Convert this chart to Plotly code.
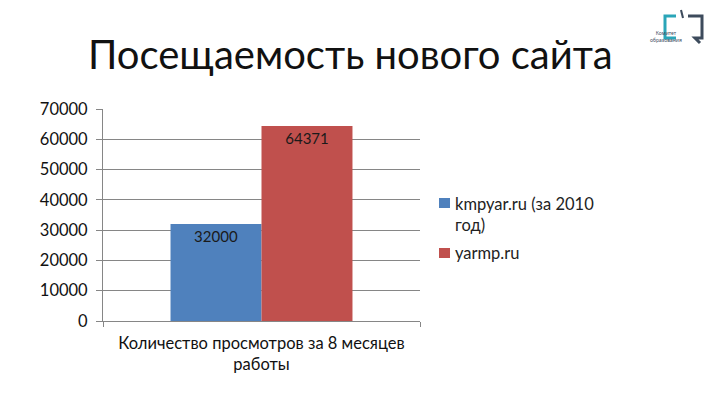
import plotly.graph_objects as go

title = "Посещаемость нового сайта"
categories = ["Количество просмотров за 8 месяцев<br>работы"]
kmpyar = [32000]
yarmp = [64371]
y_ticks = [0, 10000, 20000, 30000, 40000, 50000, 60000, 70000]
legend_names = ["kmpyar.ru (за 2010<br>год)", "yarmp.ru"]

FONT = "Lato, Noto Sans, sans-serif"
BLUE, RED = "#4f81bd", "#c0504d"
TEAL, DARK = "#2aa5b8", "#3d4b5c"
W, H = 720, 405
L, R, T, B = 103, 420, 109, 321


# paper coordinates from picture pixels, for the decorations outside the plot
def px(x):
    return (x - L) / (R - L)


def py(y):
    return (B - y) / (B - T)


def path(points):
    return "M " + " L ".join("%f %f" % (px(x), py(y)) for x, y in points)


fig = go.Figure()
fig.add_trace(go.Bar(name=legend_names[0], x=categories, y=kmpyar, marker_color=BLUE, text=kmpyar))
fig.add_trace(go.Bar(name=legend_names[1], x=categories, y=yarmp, marker_color=RED, text=yarmp))
fig.update_traces(textposition="inside", insidetextanchor="end", textangle=0,
                  constraintext="none", marker_line_width=0,
                  textfont=dict(family=FONT, size=15, color="#1a1a1a"))

fig.update_layout(
    width=W, height=H, barmode="group", bargap=0.426, bargroupgap=0,
    paper_bgcolor="white", plot_bgcolor="white", font=dict(family=FONT, color="#111111"),
    margin=dict(l=L, r=W - R, t=T, b=H - B), autosize=False, showlegend=False,
    title=dict(text=title, font=dict(family=FONT, size=40, color="#111111"),
               x=88 / W, xanchor="left", y=1 - 55 / H, yanchor="middle"),
)
fig.update_yaxes(range=[0, 70000], tickvals=y_ticks, tickformat="d", ticks="outside", ticklen=6,
                 ticklabelstandoff=5, tickcolor="#868686", showline=True, linecolor="#868686",
                 gridcolor="#868686", gridwidth=1, zeroline=False,
                 tickfont=dict(family=FONT, size=16.5, color="#111111"))
fig.update_xaxes(tickson="boundaries", ticks="outside", ticklen=5, ticklabelstandoff=7, tickcolor="#868686",
                 showline=True, linecolor="#868686", showgrid=False, tickangle=0,
                 tickfont=dict(family=FONT, size=16.5, color="#111111"))

# legend drawn by hand: plotly can't put the swatch this close to the text
for name, color, y0, y1, text_y in [(legend_names[0], BLUE, 198, 208, 214),
                                    (legend_names[1], RED, 248, 258, 253)]:
    fig.add_shape(type="rect", xref="paper", yref="paper", x0=px(439), x1=px(450), y0=py(y0), y1=py(y1),
                  line_width=0, fillcolor=color)
    fig.add_annotation(text=name, xref="paper", yref="paper", x=px(453), y=py(text_y), xanchor="left",
                       yanchor="middle", align="left", showarrow=False,
                       font=dict(family=FONT, size=16.5, color="#222222"))

# speech-bubble logo, top right corner
fig.add_shape(type="path", xref="paper", yref="paper", line=dict(color=TEAL, width=3),
              path=path([(676, 16), (665, 16), (665, 38), (676, 38)]))
fig.add_shape(type="path", xref="paper", yref="paper", line=dict(color=DARK, width=3),
              path=path([(688, 16), (702, 16), (702, 38), (695, 38), (700, 43)]))
fig.add_shape(type="path", xref="paper", yref="paper", line=dict(color=DARK, width=2),
              path=path([(681, 10), (683, 18)]))
fig.add_annotation(text="Комитет<br>образования", xref="paper", yref="paper", x=px(684), y=py(28),
                   showarrow=False, font=dict(family="Noto Sans", size=5, color=DARK))

fig.write_html("out.html", post_script="document.body.style.margin = '0';",
               config=dict(displayModeBar=False))
